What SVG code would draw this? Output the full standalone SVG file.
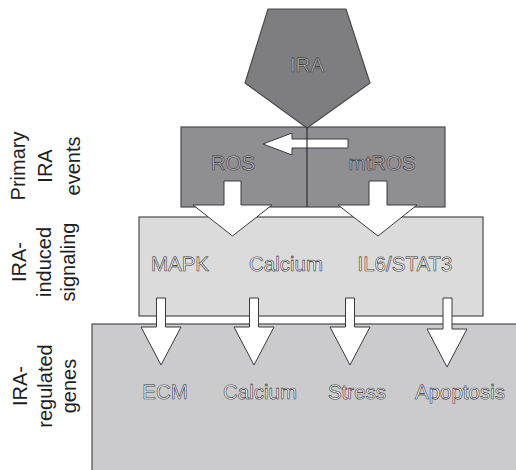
<svg xmlns="http://www.w3.org/2000/svg" width="516" height="470" viewBox="0 0 516 470">
<style>
.box{stroke:#4a4a4c;stroke-width:1.2}
.arr{fill:#ffffff;stroke:#3a3a3c;stroke-width:1;stroke-linejoin:miter}
.lbl{font-family:"Liberation Sans",Arial,sans-serif;font-size:20px;fill:#1e1e1e;text-anchor:middle}
.in{font-family:"Liberation Sans",Arial,sans-serif;font-size:20.5px;text-anchor:middle;stroke:#3a3a3c;stroke-width:0.6;text-rendering:geometricPrecision}
.dk{fill:#b2b2b5}
.lt{fill:#f4f4f4}
</style>
<rect width="516" height="470" fill="#ffffff"/>
<g id="label-primary">
<text class="lbl" transform="translate(25,166) rotate(-90)">Primary</text>
<text class="lbl" transform="translate(52,166) rotate(-90)">IRA</text>
<text class="lbl" transform="translate(80,166) rotate(-90)">events</text>
</g>
<g id="label-signaling">
<text class="lbl" transform="translate(26,262) rotate(-90)">IRA-</text>
<text class="lbl" transform="translate(51,262) rotate(-90)">induced</text>
<text class="lbl" transform="translate(75,262) rotate(-90)">signaling</text>
</g>
<g id="label-genes">
<text class="lbl" transform="translate(27,386) rotate(-90)">IRA-</text>
<text class="lbl" transform="translate(52,386) rotate(-90)">regulated</text>
<text class="lbl" transform="translate(76,386) rotate(-90)">genes</text>
</g>
<g id="genes">
<rect class="box" x="92" y="324" width="430" height="160" fill="#cbcbcd"/>
<text class="in lt" x="165" y="399">ECM</text>
<text class="in lt" x="260" y="399">Calcium</text>
<text class="in lt" x="357" y="399">Stress</text>
<text class="in lt" x="460" y="399">Apoptosis</text>
</g>
<g id="signaling">
<rect class="box" x="139" y="217" width="344" height="99" fill="#dbdbdc"/>
<text class="in lt" x="180" y="271">MAPK</text>
<text class="in lt" x="286" y="271">Calcium</text>
<text class="in lt" x="405" y="271">IL6/STAT3</text>
</g>
<g id="primary">
<rect class="box" x="181" y="127" width="264" height="80" fill="#8f8f92"/>
<text class="in dk" x="233" y="170">ROS</text>
<text class="in dk" x="382" y="170">mtROS</text>
</g>
<g id="ira">
<polygon class="box" points="268,9 346,9 370,83 307,128 245,83" fill="#7e7e81"/>
<text class="in dk" x="307" y="72">IRA</text>
</g>
<g id="connectors">
<polygon class="arr" points="348,139 348,148 292,148 292,155 263,144 292,133 292,139"/>
<line x1="307" y1="127" x2="307" y2="207" stroke="#2e2e30" stroke-width="1.2"/>
<polygon class="arr" points="224,181 241,181 241,205 272,205 232.5,236 193,205 224,205"/>
<polygon class="arr" points="369,181 387,181 387,205 417,205 378,236 338,205 369,205"/>
<polygon class="arr" points="156.5,298 165.5,298 165.5,327 181,327 161,365 141,327 156.5,327"/>
<polygon class="arr" points="249.5,298 258.5,298 258.5,327 274,327 254,365 234,327 249.5,327"/>
<polygon class="arr" points="345.5,298 354.5,298 354.5,327 370,327 350,365 330,327 345.5,327"/>
<polygon class="arr" points="443,298 452,298 452,329 467,329 447,367 427,329 443,329"/>
</g>
</svg>
